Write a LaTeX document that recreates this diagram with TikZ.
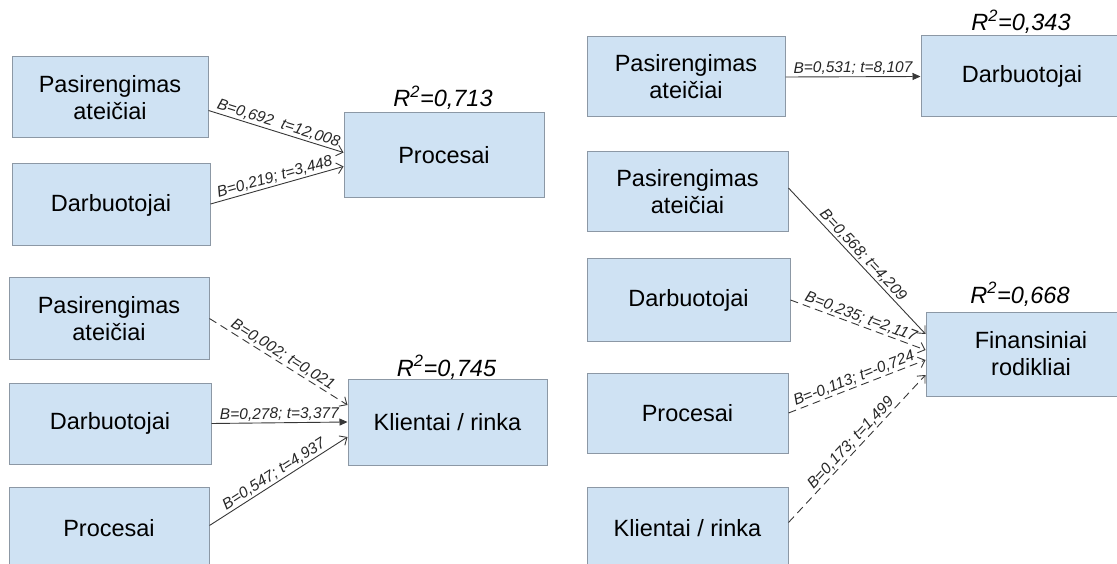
\documentclass[tikz,border=0pt]{standalone}
\usepackage{fontspec}
\setmainfont{Liberation Sans}
\usetikzlibrary{arrows.meta,calc}
\definecolor{boxfill}{RGB}{207,226,243}
\definecolor{boxline}{RGB}{140,152,165}
\definecolor{lnk}{RGB}{55,55,55}
\tikzset{
  box/.style={draw=boxline, line width=1pt, fill=boxfill, rectangle, inner sep=0pt,
    align=center, font=\fontsize{23.5}{27}\selectfont, text=black},
  rlab/.style={anchor=base, inner sep=0pt, font=\fontsize{23.5}{27}\selectfont\itshape},
  elab/.style={sloped, above, inner sep=1.5pt, font=\fontsize{15.5}{18}\selectfont\itshape, text=black!85},
  lnkopen/.style={draw=lnk, line width=0.9pt, -{Straight Barb[length=6pt,width=11pt]}},
  lnkfill/.style={draw=lnk, line width=0.9pt, -{Triangle[length=8pt,width=7pt]}},
  dashlnk/.style={dash pattern=on 8pt off 5pt},
}
\begin{document}
\begin{tikzpicture}[x=1pt,y=-1pt]
\useasboundingbox (0,0) rectangle (1117,564);
\clip (0,0) rectangle (1117,564);
% left top group
\node[box, minimum width=196pt, minimum height=81pt] (A1) at (110,97.5) {Pasirengimas\\ateičiai};
\node[box, minimum width=198pt, minimum height=82pt] (A2) at (111,205) {Darbuotojai};
\node[box, minimum width=200pt, minimum height=85pt] (P) at (444,155.5) {Procesai};
\node[rlab] (rP) at (443,107) {R\textsuperscript{2}=0,713};
% left bottom group
\node[box, minimum width=200pt, minimum height=81pt] (B1) at (109,318.5) {Pasirengimas\\ateičiai};
\node[box, minimum width=202pt, minimum height=81pt] (B2) at (110,423.5) {Darbuotojai};
\node[box, minimum width=200pt, minimum height=83pt] (B3) at (109,528.5) {Procesai};
\node[box, minimum width=199pt, minimum height=86pt] (K) at (447.5,422) {Klientai / rinka};
\node[rlab] (rK) at (446.5,376) {R\textsuperscript{2}=0,745};
% right top group
\node[box, minimum width=198pt, minimum height=80pt] (C1) at (686,77) {Pasirengimas\\ateičiai};
\node[box, minimum width=202pt, minimum height=81pt] (D) at (1022,76.5) {Darbuotojai};
\node[rlab] (rD) at (1021,31) {R\textsuperscript{2}=0,343};
% right bottom group
\node[box, minimum width=201pt, minimum height=80pt] (E1) at (687.5,192) {Pasirengimas\\ateičiai};
\node[box, minimum width=203pt, minimum height=82pt] (E2) at (688.5,300) {Darbuotojai};
\node[box, minimum width=201pt, minimum height=80pt] (E3) at (687.5,413) {Procesai};
\node[box, minimum width=201pt, minimum height=83pt] (E4) at (687.5,528.5) {Klientai / rinka};
\node[box, minimum width=210pt, minimum height=84pt] (F) at (1031,354) {Finansiniai\\rodikliai};
\node[rlab] (rF) at (1020,303) {R\textsuperscript{2}=0,668};
% connectors
\draw[lnkopen] ([yshift=-13pt]A1.east) -- node[elab]{B=0,692\ \ t=12,008} ([yshift=3pt]P.west);
\draw[lnkopen] ([yshift=1pt]A2.east) -- node[elab]{B=0,219; t=3,448} ([yshift=-11pt]P.west);
\draw[lnkopen, dashlnk] (B1.east) -- node[elab]{B=0,002; t=0,021} ([yshift=17pt]K.west);
\draw[lnkfill] (B2.east) -- node[elab]{B=0,278; t=3,377} (K.west);
\draw[lnkopen] ([yshift=3pt]B3.east) -- node[elab]{B=0,547; t=4,937} ([yshift=-15pt]K.west);
\draw[lnkfill] (C1.east) -- node[elab]{B=0,531; t=8,107} (D.west);
\draw[lnkopen] ([yshift=4pt]E1.east) -- node[elab]{B=0,568; t=4,209} ([yshift=20pt]F.west);
\draw[lnkopen, dashlnk] (E2.east) -- node[elab]{B=0,235; t=2,117} ([yshift=4pt]F.west);
\draw[lnkopen, dashlnk] (E3.east) -- node[elab]{B=-0,113; t=-0,724} ([yshift=-6pt]F.west);
\draw[lnkopen, dashlnk] ([yshift=6pt]E4.east) -- node[elab]{B=0,173; t=1,499} ([yshift=-21pt]F.west);
\end{tikzpicture}
\end{document}
